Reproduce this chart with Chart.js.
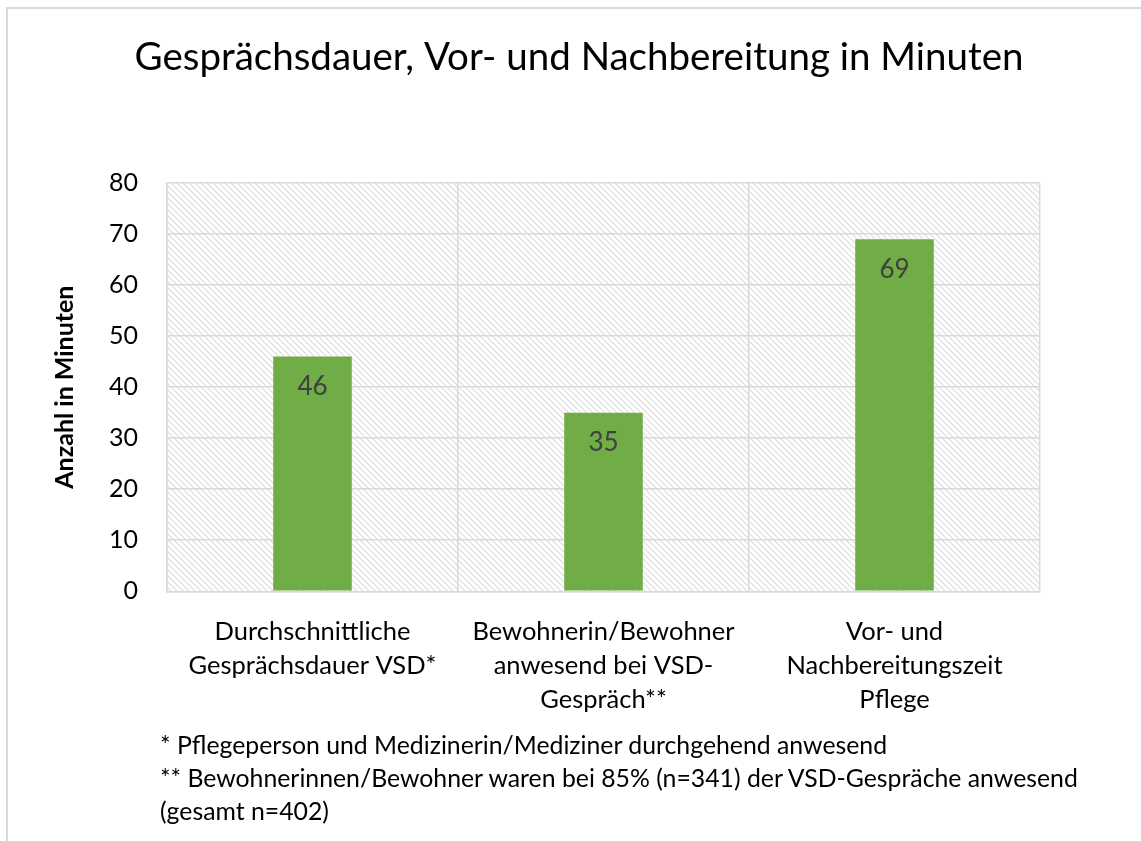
<!DOCTYPE html>
<html>
<head>
<meta charset="utf-8">
<script src="https://cdn.jsdelivr.net/npm/chart.js@4.4.1/dist/chart.umd.min.js"></script>
<style>
  body { margin: 0; background: #fff; }
  #wrap { position: relative; width: 1141px; height: 841px; overflow: hidden; }
  #frame { position: absolute; left: 6px; top: 7px; right: -10px; bottom: -10px;
           border-left: 2px solid #d9d9d9; border-top: 2px solid #d9d9d9; }
  #myChart { position: absolute; left: 0; top: 0; }
  #notes { position: absolute; left: 160px; top: 728px; font-family: Lato, sans-serif;
           font-size: 24.8px; line-height: 33px; color: #000; }
</style>
</head>
<body>
<div id="wrap">
  <div id="frame"></div>
  <canvas id="myChart" width="1141" height="841"></canvas>
  <div id="notes">
    * Pflegeperson und Medizinerin/Mediziner durchgehend anwesend<br>
    ** Bewohnerinnen/Bewohner waren bei 85% (n=341) der VSD-Gespräche anwesend<br>
    (gesamt n=402)
  </div>
</div>
<script>
const titel = 'Gesprächsdauer, Vor- und Nachbereitung in Minuten';
const kategorien = [
    ['Durchschnittliche', 'Gesprächsdauer VSD*'],
    ['Bewohnerin/Bewohner', 'anwesend bei VSD-', 'Gespräch**'],
    ['Vor- und', 'Nachbereitungszeit', 'Pflege']
];
const minuten = [46, 35, 69];
const yTicks = [0, 10, 20, 30, 40, 50, 60, 70, 80];

const schrift = 'Lato, sans-serif';
const grau = '#d9d9d9';

// schraffierter Hintergrund der Plotfläche
function makeHatch() {
    const c = document.createElement('canvas');
    c.width = 6;
    c.height = 6;
    const g = c.getContext('2d');
    g.strokeStyle = '#dcdcdc';
    g.lineWidth = 1.2;
    g.beginPath();
    g.moveTo(-1, -1);
    g.lineTo(7, 7);
    g.moveTo(-7, -1);
    g.lineTo(1, 7);
    g.moveTo(5, -1);
    g.lineTo(13, 7);
    g.stroke();
    return c;
}

const hatchPlugin = {
    id: 'hatch',
    beforeDraw(chart) {
        const { ctx, chartArea } = chart;
        ctx.save();
        ctx.fillStyle = ctx.createPattern(makeHatch(), 'repeat');
        ctx.fillRect(chartArea.left, chartArea.top, chartArea.right - chartArea.left, chartArea.bottom - chartArea.top);
        ctx.restore();
    }
};

// Titel über die ganze Fläche zentriert, nicht nur über den Plot
const titelPlugin = {
    id: 'titel',
    afterDraw(chart) {
        const ctx = chart.ctx;
        ctx.save();
        ctx.font = '38.5px ' + schrift;
        ctx.fillStyle = '#000';
        ctx.textAlign = 'center';
        ctx.textBaseline = 'middle';
        ctx.fillText(titel, 579, 58);
        ctx.restore();
    }
};

const werteLabels = {
    id: 'werteLabels',
    afterDatasetsDraw(chart) {
        const ctx = chart.ctx;
        const meta = chart.getDatasetMeta(0);
        ctx.save();
        ctx.font = '26px ' + schrift;
        ctx.fillStyle = '#404040';
        ctx.textAlign = 'center';
        ctx.textBaseline = 'middle';
        meta.data.forEach((bar, i) => {
            ctx.fillText(String(minuten[i]), bar.x, bar.y + 30);
        });
        ctx.restore();
    }
};

const ctx = document.getElementById('myChart').getContext('2d');
const myChart = new Chart(ctx, {
    type: 'bar',
    data: {
        labels: kategorien,
        datasets: [{
            data: minuten,
            backgroundColor: '#70ad47',
            categoryPercentage: 1,
            barPercentage: 0.27
        }]
    },
    options: {
        responsive: false,
        animation: false,
        layout: { padding: { left: 44, right: 101, top: 183, bottom: 100 } },
        plugins: {
            legend: { display: false },
            tooltip: { enabled: false },
            title: { display: false }
        },
        scales: {
            x: {
                grid: { color: grau, lineWidth: 1.5, drawTicks: false },
                border: { color: grau, width: 1.5 },
                ticks: {
                    color: '#000',
                    font: { family: schrift, size: 25.5, lineHeight: 1.33 },
                    padding: 24,
                    maxRotation: 0,
                    autoSkip: false
                }
            },
            y: {
                min: 0,
                max: 80,
                afterBuildTicks(axis) {
                    axis.ticks = yTicks.map(v => ({ value: v }));
                },
                grid: { color: grau, lineWidth: 1.5, drawTicks: false },
                border: { color: grau, width: 1.5 },
                ticks: {
                    color: '#000',
                    font: { family: schrift, size: 25 },
                    padding: 29
                },
                title: {
                    display: true,
                    text: 'Anzahl in Minuten',
                    color: '#000',
                    font: { family: schrift, size: 25, weight: 'bold' },
                    padding: { top: 6, bottom: 0 }
                }
            }
        }
    },
    plugins: [hatchPlugin, werteLabels, titelPlugin]
});
</script>
</body>
</html>
